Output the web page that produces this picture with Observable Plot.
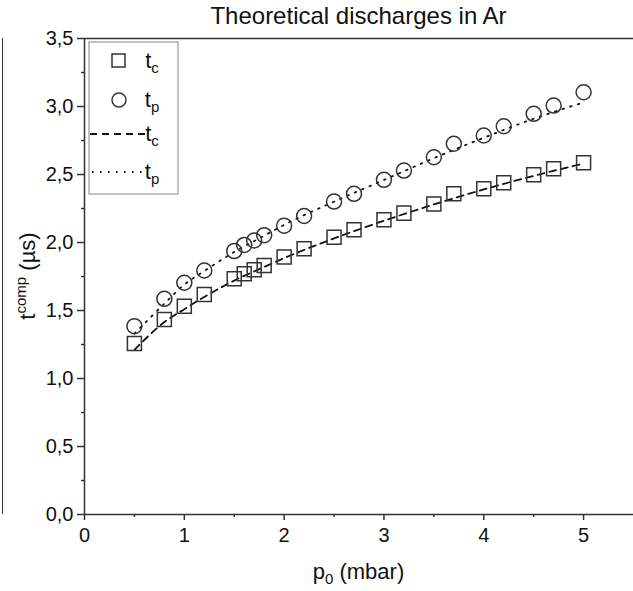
<!DOCTYPE html>
<html>
<head>
<meta charset="utf-8">
<script src="https://cdn.jsdelivr.net/npm/d3@7"></script>
<script src="https://cdn.jsdelivr.net/npm/@observablehq/plot@0.6"></script>
<style>
  html, body { margin: 0; padding: 0; background: #fff; }
  #wrap { position: relative; width: 633px; height: 591px; overflow: hidden; font-family: "Liberation Sans", Arial, sans-serif; }
  #title { position: relative; top: 7px; height: 18px; line-height: 18px; margin-left: 84px; width: 549px; text-align: center; font-size: 24px; color: #111; white-space: nowrap; }
  #edge { position: absolute; left: 2px; top: 38px; height: 476px; width: 0; border-left: 1.5px solid #333; }
  svg { display: block; }
</style>
</head>
<body>
<div id="wrap">
  <div id="title">Theoretical discharges in Ar</div>
  <div id="edge"></div>
  <div id="chart"></div>
</div>
<script>
// Measured points
const pressure = [0.5, 0.8, 1.0, 1.2, 1.5, 1.6, 1.7, 1.8, 2.0, 2.2, 2.5, 2.7, 3.0, 3.2, 3.5, 3.7, 4.0, 4.2, 4.5, 4.7, 5.0];
const tcPoints = [1.257, 1.434, 1.532, 1.618, 1.733, 1.770, 1.799, 1.831, 1.893, 1.954, 2.039, 2.093, 2.167, 2.216, 2.284, 2.358, 2.395, 2.439, 2.498, 2.542, 2.586];
const tpPoints = [1.385, 1.586, 1.704, 1.794, 1.937, 1.982, 2.015, 2.054, 2.124, 2.195, 2.301, 2.358, 2.461, 2.529, 2.627, 2.726, 2.787, 2.855, 2.946, 3.007, 3.105];

// Theoretical curves
const curveX  = [0.5, 0.8, 1.0, 1.2, 1.5, 1.8, 2.0, 2.5, 3.0, 3.5, 4.0, 4.5, 5.0];
const tcCurve = [1.21, 1.415, 1.51, 1.60, 1.72, 1.82, 1.885, 2.03, 2.16, 2.28, 2.39, 2.49, 2.58];
const tpCurve = [1.33, 1.55, 1.69, 1.79, 1.93, 2.05, 2.13, 2.30, 2.46, 2.62, 2.77, 2.91, 3.03];

// Ticks
const xMajor = [0, 1, 2, 3, 4, 5];
const xMinor = [0.5, 1.5, 2.5, 3.5, 4.5];
const yMajor = [0, 0.5, 1.0, 1.5, 2.0, 2.5, 3.0, 3.5];
const yMinor = [0.25, 0.75, 1.25, 1.75, 2.25, 2.75, 3.25];

const points = pressure.map((p, i) => ({p, tc: tcPoints[i], tp: tpPoints[i]}));
const curves = curveX.map((p, i) => ({p, tc: tcCurve[i], tp: tpCurve[i]}));

const ink = "#333";
const chart = Plot.plot({
  width: 633,
  height: 573,
  marginTop: 20,
  marginBottom: 77,
  marginLeft: 84,
  marginRight: 0,
  x: {domain: [0, 5.5], axis: null},
  y: {domain: [0, 3.5], axis: null},
  style: {fontFamily: "'Liberation Sans', Arial, sans-serif", fontSize: "20px", color: "#111", background: "transparent", overflow: "visible"},
  marks: [
    Plot.axisX({ticks: xMajor, tickSize: 6, tickPadding: 7, tickFormat: d => String(d), label: null, stroke: ink, strokeWidth: 1.5, fontSize: 20}),
    Plot.axisX({ticks: xMinor, tickSize: 3, tickFormat: () => "", label: null, stroke: ink, strokeWidth: 1.5}),
    Plot.axisY({ticks: yMajor, tickSize: 7, tickPadding: 4, tickFormat: d => d.toFixed(1).replace(".", ","), label: null, stroke: ink, strokeWidth: 1.5, fontSize: 20}),
    Plot.axisY({ticks: yMinor, tickSize: 3, tickFormat: () => "", label: null, stroke: ink, strokeWidth: 1.5}),
    Plot.ruleY([0, 3.5], {stroke: ink, strokeWidth: 1.5}),
    Plot.ruleX([0], {stroke: ink, strokeWidth: 1.5}),
    Plot.line(curves, {x: "p", y: "tc", stroke: "#111", strokeWidth: 1.8, strokeDasharray: "7,5", curve: "monotone-x"}),
    Plot.line(curves, {x: "p", y: "tp", stroke: "#111", strokeWidth: 1.8, strokeDasharray: "1.6,6.4", curve: "monotone-x"}),
    Plot.dot(points, {x: "p", y: "tc", symbol: "square", r: 7.9, stroke: ink, strokeWidth: 1.5, fill: "none"}),
    Plot.dot(points, {x: "p", y: "tp", symbol: "circle", r: 7.5, stroke: ink, strokeWidth: 1.5, fill: "none"})
  ]
});
document.getElementById("chart").appendChild(chart);

const svg = d3.select(chart);
const font = "'Liberation Sans', Arial, sans-serif";
const oy = 20; // svg top offset relative to plot area top at page y=38

// x axis label
const xl = svg.append("text")
  .attr("x", 358.5).attr("y", 560.5)
  .attr("text-anchor", "middle")
  .attr("font-family", font).attr("font-size", 22).attr("fill", "#111");
xl.append("tspan").text("p");
xl.append("tspan").attr("dy", 5).attr("font-size", 15).text("0");
xl.append("tspan").attr("dy", -5).text(" (mbar)");

// y axis label
const yl = svg.append("text")
  .attr("transform", "translate(35,258) rotate(-90)")
  .attr("text-anchor", "middle")
  .attr("font-family", font).attr("font-size", 22).attr("fill", "#111");
yl.append("tspan").text("t");
yl.append("tspan").attr("dy", -9).attr("font-size", 15).text("comp");
yl.append("tspan").attr("dy", 9).text(" (µs)");

// legend
const lg = svg.append("g").attr("font-family", font).attr("fill", "#111").attr("transform", "translate(0,12)");
lg.append("rect").attr("x", 89).attr("y", 12).attr("width", 89).attr("height", 152)
  .attr("fill", "white").attr("stroke", "#999").attr("stroke-width", 1.2);
lg.append("rect").attr("x", 112).attr("y", 24).attr("width", 13).attr("height", 13)
  .attr("fill", "none").attr("stroke", ink).attr("stroke-width", 1.5);
lg.append("circle").attr("cx", 119).attr("cy", 70).attr("r", 7)
  .attr("fill", "none").attr("stroke", ink).attr("stroke-width", 1.5);
lg.append("line").attr("x1", 90).attr("x2", 148).attr("y1", 104).attr("y2", 104)
  .attr("stroke", "#111").attr("stroke-width", 1.8).attr("stroke-dasharray", "7,5");
lg.append("line").attr("x1", 92).attr("x2", 148).attr("y1", 142).attr("y2", 142)
  .attr("stroke", "#111").attr("stroke-width", 1.8).attr("stroke-dasharray", "1.6,6.4");
const labels = [["t", "c", 38], ["t", "p", 77], ["t", "c", 111], ["t", "p", 149]];
for (const [a, b, y] of labels) {
  const t = lg.append("text").attr("x", 152).attr("y", y).attr("font-size", 22);
  t.append("tspan").text(a);
  t.append("tspan").attr("dy", 5).attr("font-size", 15).text(b);
}
</script>
</body>
</html>
